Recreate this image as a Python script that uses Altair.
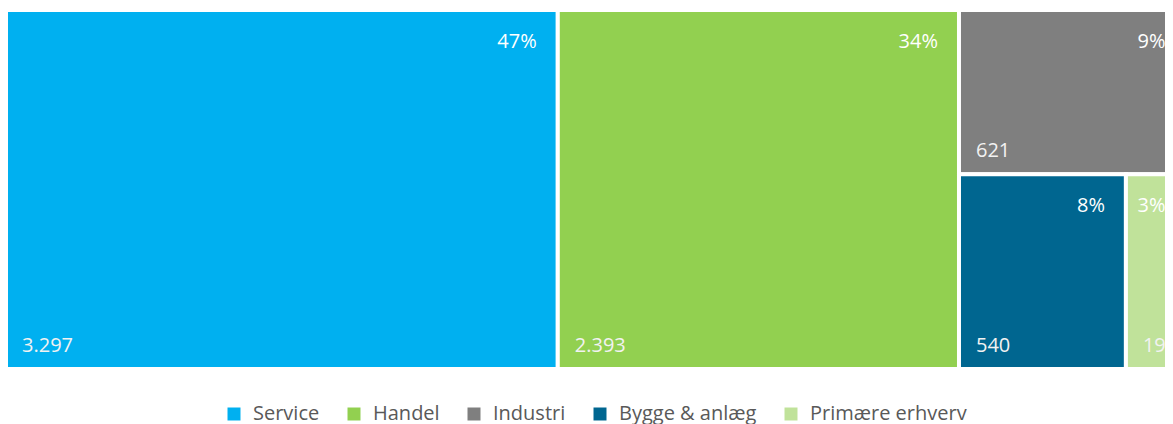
import altair as alt
import pandas as pd

# ---- data ----
categories = ["Service", "Handel", "Industri", "Bygge & anlæg", "Primære erhverv"]
values = [3297, 2393, 621, 540, 196]
colors = ["#00B0F0", "#92D050", "#7F7F7F", "#006690", "#C0E29A"]

# ---- layout (treemap computed from the values, squarified) ----
LAYOUT_W = 1181.5
LAYOUT_H = 359.0


def squarify(vals, x, y, w, h):
    rects = []
    vals = list(vals)
    while vals:
        short = min(w, h)

        def worst(r):
            s = sum(r)
            side = s / short
            return max(max(side / (a / side), (a / side) / side) for a in r)

        row = [vals[0]]
        i = 1
        while i < len(vals) and worst(row + [vals[i]]) <= worst(row):
            row.append(vals[i])
            i += 1
        s = sum(row)
        if w >= h:
            cw = s / h
            yy = y
            for a in row:
                hh = a / cw
                rects.append((x, yy, x + cw, yy + hh))
                yy += hh
            x += cw
            w -= cw
        else:
            rh = s / w
            xx = x
            for a in row:
                ww = a / rh
                rects.append((xx, y, xx + ww, y + rh))
                xx += ww
            y += rh
            h -= rh
        vals = vals[len(row):]
    return rects


total = sum(values)
areas = [v / total * LAYOUT_W * LAYOUT_H for v in values]
rects = squarify(areas, 0.0, 0.0, LAYOUT_W, LAYOUT_H)

df = pd.DataFrame({
    "cat": categories,
    "value": values,
    "x0": [r[0] for r in rects],
    "y0": [r[1] for r in rects],
    "x1": [r[2] for r in rects],
    "y1": [r[3] for r in rects],
})
df["pct"] = [f"{round(v / total * 100)}%" for v in values]
df["vlabel"] = [f"{v:,}".replace(",", ".") for v in values]

xs = alt.Scale(domain=[0, LAYOUT_W], range=[-3, 1178.5])
ys = alt.Scale(domain=[0, LAYOUT_H], range=[2, 361])

base = alt.Chart(df)

rect = base.mark_rect(stroke="white", strokeWidth=4).encode(
    x=alt.X("x0:Q", scale=xs, axis=None),
    x2="x1:Q",
    y=alt.Y("y0:Q", scale=ys, axis=None),
    y2="y1:Q",
    color=alt.Color(
        "cat:N",
        scale=alt.Scale(domain=categories, range=colors),
        sort=categories,
        legend=alt.Legend(
            title=None,
            orient="none",
            legendX=216,
            legendY=396,
            direction="horizontal",
            columns=5,
            symbolType="square",
            symbolSize=169,
            symbolStrokeWidth=0,
            symbolOpacity=1,
            labelFont="Open Sans",
            labelFontSize=20,
            labelColor="#595959",
            labelOffset=9,
            columnPadding=24,
            labelLimit=400,
        ),
    ),
)

pct = base.mark_text(
    align="right", baseline="alphabetic", dx=-21, dy=38,
    font="Open Sans", fontSize=20, color="white",
).encode(
    x=alt.X("x1:Q", scale=xs, axis=None),
    y=alt.Y("y0:Q", scale=ys, axis=None),
    text="pct:N",
)

vlab = base.mark_text(
    align="left", baseline="alphabetic", dx=17, dy=-17,
    font="Open Sans", fontSize=20, color="#F2F2F2",
).encode(
    x=alt.X("x0:Q", scale=xs, axis=None),
    y=alt.Y("y1:Q", scale=ys, axis=None),
    text="vlabel:N",
)

chart = (
    alt.layer(rect, pct, vlab)
    .properties(width=1157, height=416, autosize=alt.AutoSizeParams(type="none"), padding=0)
    .configure_view(stroke=None)
)

chart.save("out.html", embed_options={"renderer": "svg", "actions": False})
